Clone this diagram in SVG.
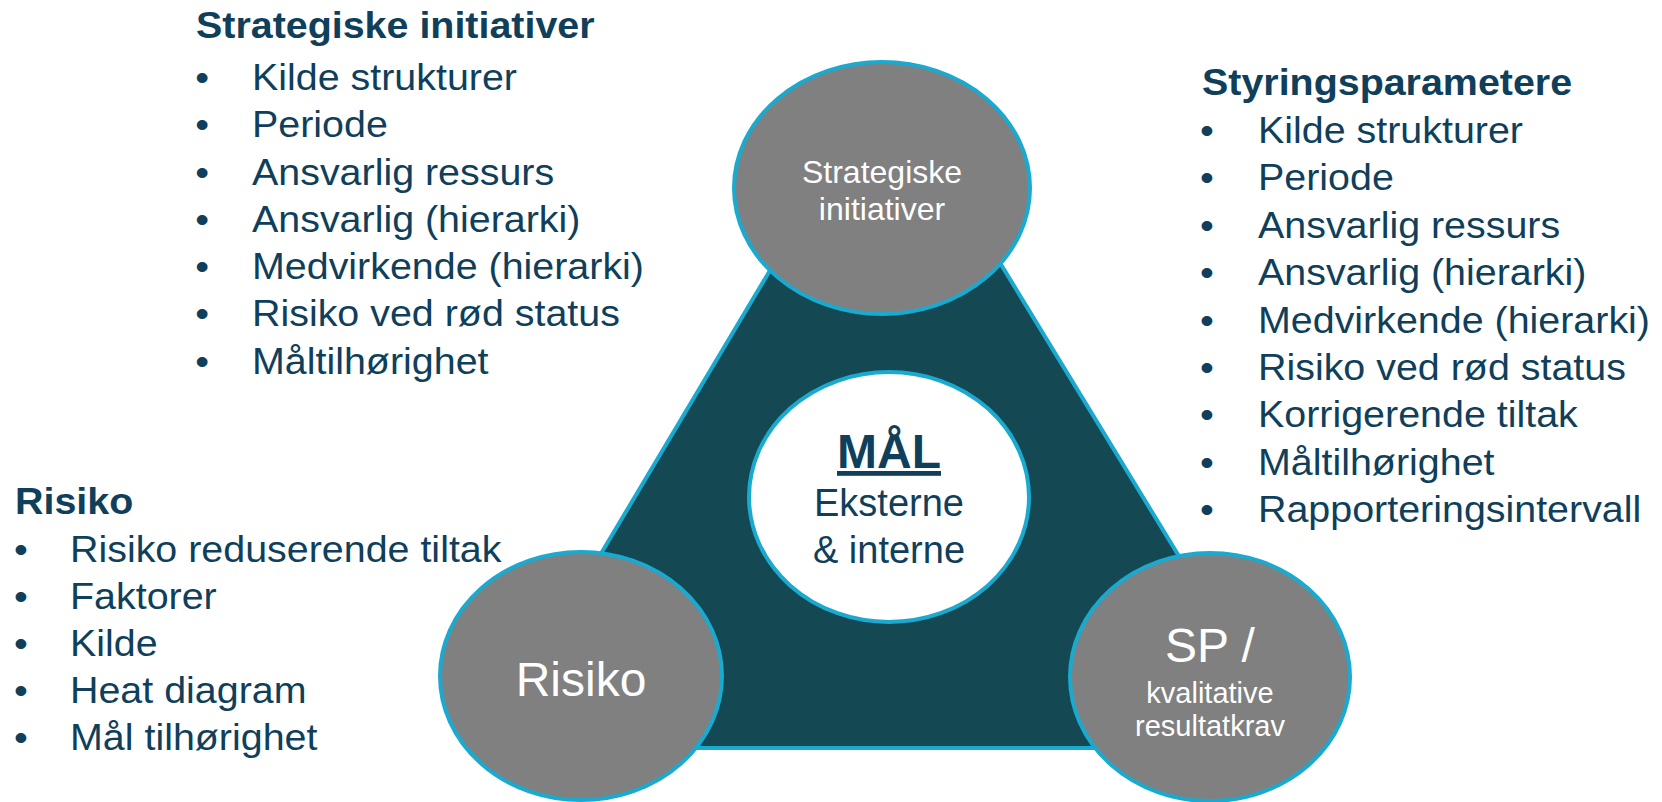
<svg xmlns="http://www.w3.org/2000/svg" width="1662" height="802" viewBox="0 0 1662 802">
<style>
.bg{fill:#ffffff}
.tri{fill:#144853;stroke:#1aa9cf;stroke-width:4;stroke-linejoin:miter}
.node{fill:#808080;stroke:#1aa9cf;stroke-width:4}
.core{fill:#ffffff;stroke:#1aa9cf;stroke-width:4}
.t{font-family:"Liberation Sans",Arial,sans-serif;fill:#0f3f5a}
.h{font-weight:bold;font-size:37px}
.b{font-size:37px}
.w{font-family:"Liberation Sans",Arial,sans-serif;fill:#ffffff;text-anchor:middle}
.c{text-anchor:middle}
.d{text-anchor:middle}
</style>
<rect class="bg" x="0" y="0" width="1662" height="802"/>
<g id="connectors">
  <polygon id="triangle" class="tri" points="886,76 485,748 1296,748"/>
</g>
<g id="node-strategiske">
  <ellipse class="node" cx="882" cy="188" rx="148" ry="126"/>
  <text class="w" x="882" y="183" font-size="32">Strategiske</text>
  <text class="w" x="882" y="220" font-size="32">initiativer</text>
</g>
<g id="node-risiko">
  <ellipse class="node" cx="581" cy="676" rx="141" ry="124"/>
  <text class="w" x="581" y="696" font-size="48">Risiko</text>
</g>
<g id="node-sp">
  <ellipse class="node" cx="1210" cy="677" rx="140" ry="124"/>
  <text class="w" x="1210" y="662" font-size="48">SP /</text>
  <text class="w" x="1210" y="703" font-size="29">kvalitative</text>
  <text class="w" x="1210" y="736" font-size="29">resultatkrav</text>
</g>
<g id="node-maal">
  <ellipse class="core" cx="889" cy="497" rx="140" ry="125"/>
  <text class="t c" x="889" y="468" font-size="48" font-weight="bold" text-decoration="underline">MÅL</text>
  <text class="t c" x="889" y="516" font-size="38">Eksterne</text>
  <text class="t c" x="889" y="563" font-size="38">&amp; interne</text>
</g>
<g id="list-strategiske" transform="translate(252,0) scale(1.065,1)">
  <text class="t h" x="-52.6" y="38">Strategiske initiativer</text>
  <g class="t b">
    <text class="d" x="-46.9" y="90">•</text><text x="0" y="90">Kilde strukturer</text>
    <text class="d" x="-46.9" y="137.3">•</text><text x="0" y="137.3">Periode</text>
    <text class="d" x="-46.9" y="184.6">•</text><text x="0" y="184.6">Ansvarlig ressurs</text>
    <text class="d" x="-46.9" y="231.9">•</text><text x="0" y="231.9">Ansvarlig (hierarki)</text>
    <text class="d" x="-46.9" y="279.2">•</text><text x="0" y="279.2">Medvirkende (hierarki)</text>
    <text class="d" x="-46.9" y="326.5">•</text><text x="0" y="326.5">Risiko ved rød status</text>
    <text class="d" x="-46.9" y="373.8">•</text><text x="0" y="373.8">Måltilhørighet</text>
  </g>
</g>
<g id="list-styring" transform="translate(1258,0) scale(1.065,1)">
  <text class="t h" x="-52.6" y="95">Styringsparametere</text>
  <g class="t b">
    <text class="d" x="-47.9" y="143">•</text><text x="0" y="143">Kilde strukturer</text>
    <text class="d" x="-47.9" y="190.4">•</text><text x="0" y="190.4">Periode</text>
    <text class="d" x="-47.9" y="237.8">•</text><text x="0" y="237.8">Ansvarlig ressurs</text>
    <text class="d" x="-47.9" y="285.2">•</text><text x="0" y="285.2">Ansvarlig (hierarki)</text>
    <text class="d" x="-47.9" y="332.6">•</text><text x="0" y="332.6">Medvirkende (hierarki)</text>
    <text class="d" x="-47.9" y="380">•</text><text x="0" y="380">Risiko ved rød status</text>
    <text class="d" x="-47.9" y="427.4">•</text><text x="0" y="427.4">Korrigerende tiltak</text>
    <text class="d" x="-47.9" y="474.8">•</text><text x="0" y="474.8">Måltilhørighet</text>
    <text class="d" x="-47.9" y="522.2">•</text><text x="0" y="522.2">Rapporteringsintervall</text>
  </g>
</g>
<g id="list-risiko" transform="translate(70,0) scale(1.065,1)">
  <text class="t h" x="-51.6" y="514">Risiko</text>
  <g class="t b">
    <text class="d" x="-46" y="562">•</text><text x="0" y="562">Risiko reduserende tiltak</text>
    <text class="d" x="-46" y="609">•</text><text x="0" y="609">Faktorer</text>
    <text class="d" x="-46" y="656">•</text><text x="0" y="656">Kilde</text>
    <text class="d" x="-46" y="703">•</text><text x="0" y="703">Heat diagram</text>
    <text class="d" x="-46" y="750">•</text><text x="0" y="750">Mål tilhørighet</text>
  </g>
</g>
</svg>
